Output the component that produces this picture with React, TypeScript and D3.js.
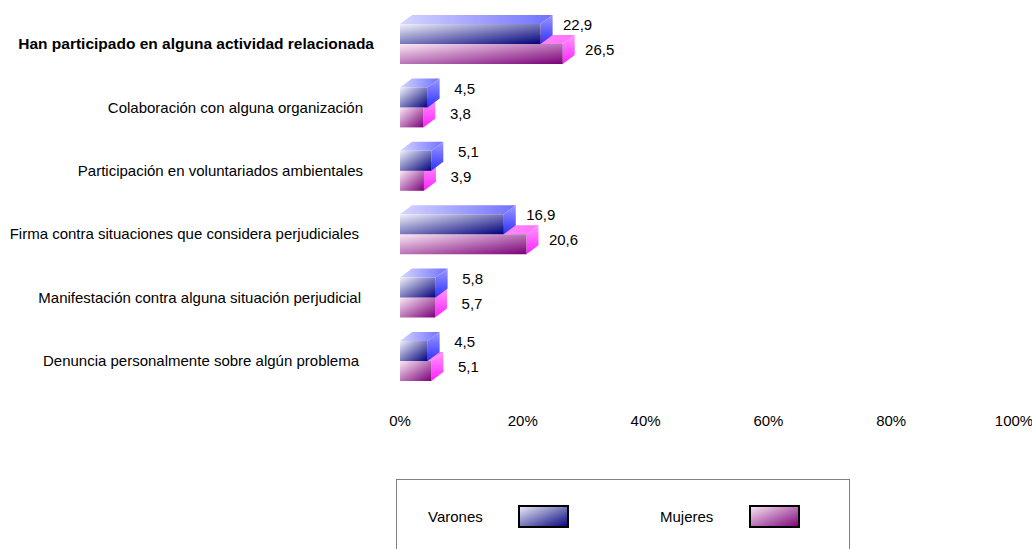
import React from "react";
import * as d3 from "d3";

const categories = [
  "Han participado en alguna actividad relacionada",
  "Colaboración con alguna organización",
  "Participación en voluntariados ambientales",
  "Firma contra situaciones que considera perjudiciales",
  "Manifestación contra alguna situación perjudicial",
  "Denuncia personalmente sobre algún problema",
];
const varones = [22.9, 4.5, 5.1, 16.9, 5.8, 4.5];
const mujeres = [26.5, 3.8, 3.9, 20.6, 5.7, 5.1];
const ticks = [0, 20, 40, 60, 80, 100];
const seriesNames = ["Varones", "Mujeres"];

const W = 1032;
const H = 549;
const FONT = "'Liberation Sans', Arial, sans-serif";
const DX = 12;
const DY = 9;
const BAR_H = 20;

export default function App() {
  const x = d3.scaleLinear().domain([0, 100]).range([400, 1014]);
  const y = d3
    .scalePoint<string>()
    .domain(categories)
    .range([43, 360]);
  const fmt = (v: number) => v.toFixed(1).replace(".", ",");
  const labelRight = [374, 363, 363, 359, 361, 359];

  const bar = (v: number, top: number, kind: "b" | "p", key: string) => {
    const x0 = x(0);
    const x1 = x(v);
    const bottom = top + BAR_H;
    const front = `M${x0},${top}H${x1}V${bottom}H${x0}Z`;
    const topFace = `M${x0},${top}L${x0 + DX},${top - DY}H${x1 + DX}L${x1},${top}Z`;
    const side = `M${x1},${top}L${x1 + DX},${top - DY}V${bottom - DY}L${x1},${bottom}Z`;
    return (
      <g key={key}>
        <path d={topFace} fill={`url(#${kind}Top)`} />
        <path d={side} fill={`url(#${kind}Side)`} />
        <path d={front} fill={`url(#${kind}Front)`} />
      </g>
    );
  };

  return (
    <svg width={W} height={H} style={{ position: "absolute", left: 0, top: 0 }} fontFamily={FONT}>
      <defs>
        <linearGradient id="bFront" x1="0" y1="0" x2="1" y2="1">
          <stop offset="0" stopColor="#f2f2fc" />
          <stop offset="1" stopColor="#00007a" />
        </linearGradient>
        <linearGradient id="bTop" x1="0" y1="0" x2="1" y2="0">
          <stop offset="0" stopColor="#d6d6ff" />
          <stop offset="1" stopColor="#7070ff" />
        </linearGradient>
        <linearGradient id="bSide" x1="0" y1="0" x2="0" y2="1">
          <stop offset="0" stopColor="#9a9aff" />
          <stop offset="1" stopColor="#3030ff" />
        </linearGradient>
        <linearGradient id="pFront" x1="0" y1="0" x2="1" y2="1">
          <stop offset="0" stopColor="#fbeaf6" />
          <stop offset="1" stopColor="#7a0078" />
        </linearGradient>
        <linearGradient id="pTop" x1="0" y1="0" x2="1" y2="0">
          <stop offset="0" stopColor="#ffd6ff" />
          <stop offset="1" stopColor="#ff70ff" />
        </linearGradient>
        <linearGradient id="pSide" x1="0" y1="0" x2="0" y2="1">
          <stop offset="0" stopColor="#ff9aff" />
          <stop offset="1" stopColor="#ff20ff" />
        </linearGradient>
        <linearGradient id="bLeg" x1="0" y1="0" x2="1" y2="1">
          <stop offset="0" stopColor="#f0f0fa" />
          <stop offset="1" stopColor="#00007a" />
        </linearGradient>
        <linearGradient id="pLeg" x1="0" y1="0" x2="1" y2="1">
          <stop offset="0" stopColor="#fbeaf6" />
          <stop offset="1" stopColor="#7a0078" />
        </linearGradient>
      </defs>
      <rect x={0} y={0} width={W} height={H} fill="#fff" />

      {categories.map((c, i) => {
        const cy = y(c)!;
        return (
          <g key={c}>
            {bar(mujeres[i], cy + 1, "p", "p" + i)}
            {bar(varones[i], cy - 19, "b", "b" + i)}
            <text
              x={labelRight[i]}
              y={cy + 1}
              dy="0.35em"
              textAnchor="end"
              fontSize={i === 0 ? 15.5 : 15}
              fontWeight={i === 0 ? "bold" : "normal"}
              fill="#000"
            >
              {c}
            </text>
            <text x={x(varones[i]) + 37} y={cy - 18} dy="0.35em" textAnchor="middle" fontSize={15}>
              {fmt(varones[i])}
            </text>
            <text x={x(mujeres[i]) + 37} y={cy + 7} dy="0.35em" textAnchor="middle" fontSize={15}>
              {fmt(mujeres[i])}
            </text>
          </g>
        );
      })}

      {ticks.map((t) => (
        <text key={t} x={x(t)} y={421} dy="0.35em" textAnchor="middle" fontSize={15}>
          {t + "%"}
        </text>
      ))}

      <rect x={396.5} y={479.5} width={453} height={80} fill="none" stroke="#808080" strokeWidth={1} />
      {seriesNames.map((s, i) => {
        const lx = i === 0 ? 428 : 660;
        const sx = i === 0 ? 519 : 750;
        return (
          <g key={s}>
            <text x={lx} y={517} dy="0.35em" fontSize={15}>
              {s}
            </text>
            <rect x={sx} y={506} width={49} height={21} fill={`url(#${i === 0 ? "bLeg" : "pLeg"})`} stroke="#000" strokeWidth={2} />
          </g>
        );
      })}
    </svg>
  );
}
